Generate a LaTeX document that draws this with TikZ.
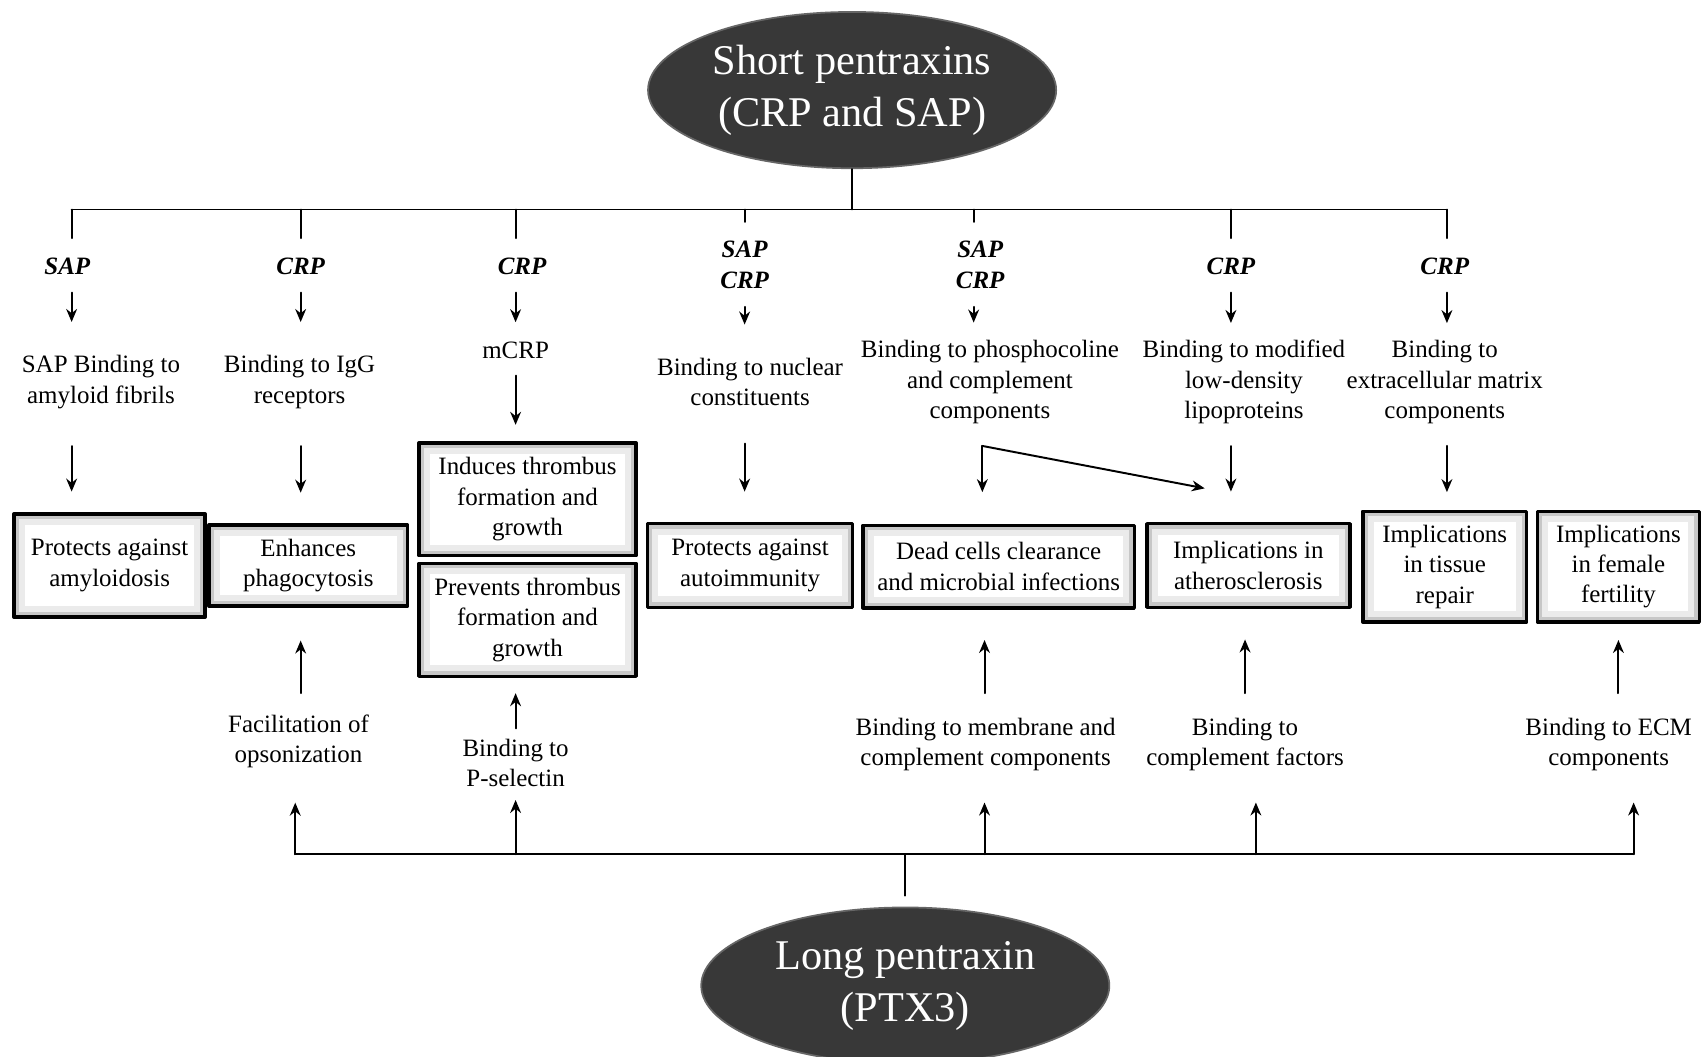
\documentclass[tikz,border=0pt]{standalone}
\usepackage{fontspec}
\setmainfont{Liberation Serif}
\usepackage{tikz}
\usetikzlibrary{arrows.meta,calc,positioning,shapes.geometric}
\tikzset{
  pent/.style={ellipse, fill=black!78, draw=black!60, line width=0.8pt, text=white,
    minimum width=188pt, minimum height=72pt, inner sep=0pt, align=center,
    font=\fontsize{19.5}{24}\selectfont},
  tag/.style={inner sep=0pt, align=center, font=\fontsize{11.5}{14}\selectfont\bfseries\itshape},
  lbl/.style={inner sep=0pt, align=center, font=\fontsize{11.5}{14}\selectfont},
  bevbox/.style={draw=black, line width=1.6pt, fill=white, inner sep=3pt, align=center,
    font=\fontsize{11.5}{14}\selectfont,
    path picture={
      \draw[black!8, line width=10pt] (path picture bounding box.south west) rectangle (path picture bounding box.north east);
      \draw[black!22, line width=4.5pt] (path picture bounding box.south west) rectangle (path picture bounding box.north east);
      \draw[black!40, line width=1.6pt] (path picture bounding box.south west) rectangle (path picture bounding box.north east);
    }},
  arr/.style={-{Stealth[length=6pt,width=5pt]}},
  every picture/.style={line cap=round, line join=round}
}

\begin{document}
\begin{tikzpicture}[x=0.5pt, y=-0.5pt, line width=0.9pt]
  \useasboundingbox (0,0) rectangle (1568,973);

  \node[pent] (sp) at (785,83) {Short pentraxins\\(CRP and SAP)};
  \node[pent] (lp) at (834,908) {Long pentraxin\\(PTX3)};

  % top bar
  \coordinate (tb) at (785,193);
  \coordinate (c1) at (66,193);
  \coordinate (c2) at (277,193);
  \coordinate (c3) at (475,193);
  \coordinate (c4) at (686,193);
  \coordinate (c5) at (897,193);
  \coordinate (c6) at (1134,193);
  \coordinate (c7) at (1333,193);
  \draw (sp) -- (tb);
  \draw (c1) -- (c7);

  \node[tag] (g1) at (62,245) {SAP};
  \node[tag] (g2) at (277,245) {CRP};
  \node[tag] (g3) at (481,245) {CRP};
  \node[tag] (g4) at (686,244) {SAP\\CRP};
  \node[tag] (g5) at (903,244) {SAP\\CRP};
  \node[tag] (g6) at (1134,245) {CRP};
  \node[tag] (g7) at (1331,245) {CRP};

  \node[lbl] (l1) at (93,352) {SAP Binding to\\amyloid fibrils};
  \node[lbl] (l2) at (276,352) {Binding to IgG\\receptors};
  \node[lbl] (l3) at (475,323) {mCRP};
  \node[lbl] (l4) at (691,352) {Binding to nuclear\\constituents};
  \node[lbl] (l5) at (912,352) {Binding to phosphocoline\\and complement\\components};
  \node[lbl] (l6) at (1146,352) {Binding to modified\\low-density\\lipoproteins};
  \node[lbl] (l7) at (1331,352) {Binding to\\extracellular matrix\\components};

  % outcome boxes
  \node[bevbox, minimum width=88pt, minimum height=47.5pt] (b1) at (101,521) {Protects against\\amyloidosis};
  \node[bevbox, minimum width=91.5pt, minimum height=37.5pt] (b2) at (284,521) {Enhances\\phagocytosis};
  \node[bevbox, minimum width=100pt, minimum height=52pt] (b3) at (486,460) {Induces thrombus\\formation and\\growth};
  \node[bevbox, minimum width=100pt, minimum height=52pt] (b4) at (486,571) {Prevents thrombus\\formation and\\growth};
  \node[bevbox, minimum width=94.5pt, minimum height=38.5pt] (b5) at (691,521) {Protects against\\autoimmunity};
  \node[bevbox, minimum width=125pt, minimum height=38pt] (b6) at (920,522) {Dead cells clearance\\and microbial infections};
  \node[bevbox, minimum width=93.5pt, minimum height=38.5pt] (b7) at (1150,521) {Implications in\\atherosclerosis};
  \node[bevbox, minimum width=75.5pt, minimum height=51pt] (b8) at (1331,522) {Implications\\in tissue\\repair};
  \node[bevbox, minimum width=74.5pt, minimum height=51pt] (b9) at (1491,522) {Implications\\in female\\fertility};

  \node[lbl] (m2) at (275,683) {Facilitation of\\opsonization};
  \node[lbl] (m3) at (475,703) {Binding to\\P-selectin};
  \node[lbl] (m5) at (908,686) {Binding to membrane and\\complement components};
  \node[lbl] (m6) at (1147,686) {Binding to\\complement factors};
  \node[lbl] (m8) at (1482,686) {Binding to ECM\\components};

  % bottom bar
  \coordinate (lb) at (834,787);
  \coordinate (d2) at (272,787);
  \coordinate (d3) at (475,787);
  \coordinate (d5) at (907,787);
  \coordinate (d6) at (1157,787);
  \coordinate (d8) at (1505,787);
  \draw[shorten <=5pt] (lp) -- (lb);
  \draw (d2) -- (d8);

  % short pentraxins side
  \foreach \c/\g in {c1/g1,c2/g2,c3/g3,c4/g4,c5/g5,c6/g6,c7/g7}
    \draw[shorten >=8.5pt] (\c) -- (\g.north -| \c);
  \foreach \c/\g/\l/\s in {c1/g1/l1/15,c2/g2/l2/15,c3/g3/l3/8.75,c4/g4/l4/15,c5/g5/l5/7.75,c6/g6/l6/7.5,c7/g7/l7/7.5}
    \draw[arr, shorten <=8pt, shorten >=\s pt] (\g.south -| \c) -- (\l.north -| \c);
  \draw[arr, shorten <=16.8pt, shorten >=9.5pt] (l1.south -| c1) -- (b1.north -| c1);
  \draw[arr, shorten <=16.8pt, shorten >=14pt] (l2.south -| c2) -- (b2.north -| c2);
  \draw[arr, shorten <=7.25pt, shorten >=7.5pt] (l3.south) -- (b3.north -| l3);
  \draw[arr, shorten <=16.8pt, shorten >=14pt] (l4.south -| c4) -- (b5.north -| c4);
  \draw[arr, shorten <=9.75pt, shorten >=14pt] (l6.south -| c6) -- (b7.north -| c6);
  \draw[arr, shorten <=9.75pt, shorten >=8pt] (l7.south -| c7) -- (b8.north -| c7);
  \coordinate (fk) at ($(l5.south)+(-7,19.5)$);
  \draw[arr, shorten >=14.5pt] (fk) -- (b6.north -| fk);
  \draw[arr] (fk) -- ($(b7.north west)+(55,-31)$);

  % long pentraxin side
  \draw[arr, shorten <=9.5pt, shorten >=15pt] (m2.north -| c2) -- (b2.south -| c2);
  \draw[arr, shorten <=4.5pt, shorten >=7pt] (m3.north) -- (b4.south -| m3);
  \draw[arr, shorten <=11pt, shorten >=14pt] (m5.north -| d5) -- (b6.south -| d5);
  \draw[arr, shorten <=11pt, shorten >=14pt] (m6) -- (b7.south -| m6);
  \draw[arr, shorten <=11pt, shorten >=7.5pt] (m8.north -| b9) -- (b9.south);
  \foreach \d/\m/\s in {d2/m2/15.5,d3/m3/5.5,d5/m5/14,d6/m6/14,d8/m8/14}
    \draw[arr, shorten >=\s pt] (\d) -- (\m.south -| \d);
\end{tikzpicture}
\end{document}
